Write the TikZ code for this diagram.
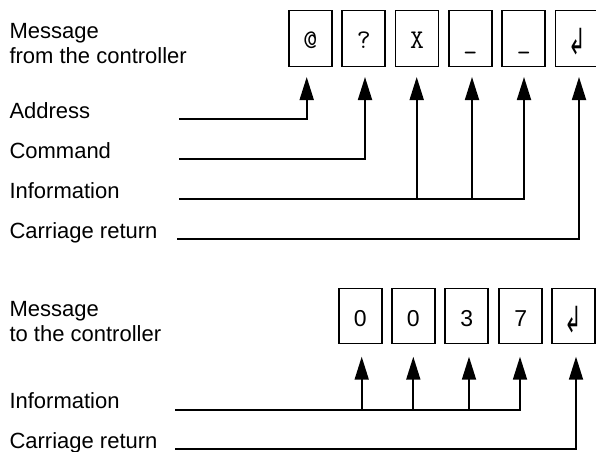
\documentclass[tikz,border=0pt]{standalone}
\usepackage{fontspec}
\setmainfont{Liberation Sans}
\newfontfamily\symfont{DejaVu Sans}
\usetikzlibrary{arrows.meta}
\newcommand\crglyph{\scalebox{0.7}[1.2]{\symfont ↲}}
\begin{document}
\begin{tikzpicture}[x=1pt,y=-1pt,
  lbl/.style={anchor=base west, inner sep=0pt, font=\fontsize{22}{25.5}\selectfont, align=left},
  tbox/.style={draw, line width=1.6pt, minimum width=43pt, minimum height=56pt, inner sep=0pt,
    text height=19pt, text depth=0pt, font=\ttfamily\fontsize{27}{27}\selectfont},
  bbox/.style={draw, line width=1.6pt, minimum width=43pt, minimum height=55pt, inner sep=0pt,
    text height=22pt, text depth=0pt, font=\fontsize{23}{23}\selectfont},
  crsym/.style={font=\fontsize{30}{30}\selectfont, text height=31pt},
  wire/.style={line width=1.8pt},
  arr/.style={wire, -{Triangle[length=23pt, width=14pt]}}
]
\useasboundingbox (0,0) rectangle (596,451);

% top message
\node[tbox] (b1) at (310.3,38.5) {@};
\node[tbox] (b2) at (363.7,38.5) {?};
\node[tbox] (b3) at (417,38.5) {X};
\node[tbox] (b4) at (470.3,38.5) {\_};
\node[tbox] (b5) at (523.7,38.5) {\_};
\node[tbox,crsym] (b6) at (577,38.5) {\crglyph};

\node[lbl] (msg1) at (9.3,63.5) {Message\\from the controller};
\node[lbl] (addr) at (9.3,118.5) {Address};
\node[lbl] (cmd) at (9.3,158.5) {Command};
\node[lbl] (info) at (9.3,198.5) {Information};
\node[lbl] (cr) at (9.3,238.5) {Carriage return};

\coordinate (la) at (179,119);
\coordinate (lc) at (179,159);
\coordinate (li) at (179,199);
\coordinate (lr) at (177,239.3);
\coordinate (ta1) at (306.7,77);
\coordinate (ta2) at (365,77);
\coordinate (ta3) at (416.7,77);
\coordinate (ta4) at (472,77);
\coordinate (ta5) at (524,77);
\coordinate (ta6) at (579,77);

\draw[arr] (la) -| (ta1);
\draw[arr] (lc) -| (ta2);
\draw[arr] (li) -| (ta5);
\draw[arr] (ta3 |- li) -- (ta3);
\draw[arr] (ta4 |- li) -- (ta4);
\draw[arr] (lr) -| (ta6);

% bottom message
\node[bbox] (c1) at (360.3,315.8) {0};
\node[bbox] (c2) at (413.3,315.8) {0};
\node[bbox] (c3) at (466.7,315.8) {3};
\node[bbox] (c4) at (520.7,315.8) {7};
\node[bbox,crsym,text height=34pt] (c5) at (573.5,315.8) {\crglyph};

\node[lbl] (msg2) at (9.3,341.5) {Message\\to the controller};
\node[lbl] (info2) at (9.3,408.5) {Information};
\node[lbl] (cr2) at (9.3,448) {Carriage return};

\coordinate (mi) at (175,410);
\coordinate (mr) at (175,449.3);
\coordinate (tc1) at (361.7,356.7);
\coordinate (tc2) at (413.3,356.7);
\coordinate (tc3) at (469,356.7);
\coordinate (tc4) at (520,356.7);
\coordinate (tc5) at (576,356.7);

\draw[arr] (mi) -| (tc4);
\draw[arr] (tc1 |- mi) -- (tc1);
\draw[arr] (tc2 |- mi) -- (tc2);
\draw[arr] (tc3 |- mi) -- (tc3);
\draw[arr] (mr) -| (tc5);
\end{tikzpicture}
\end{document}
